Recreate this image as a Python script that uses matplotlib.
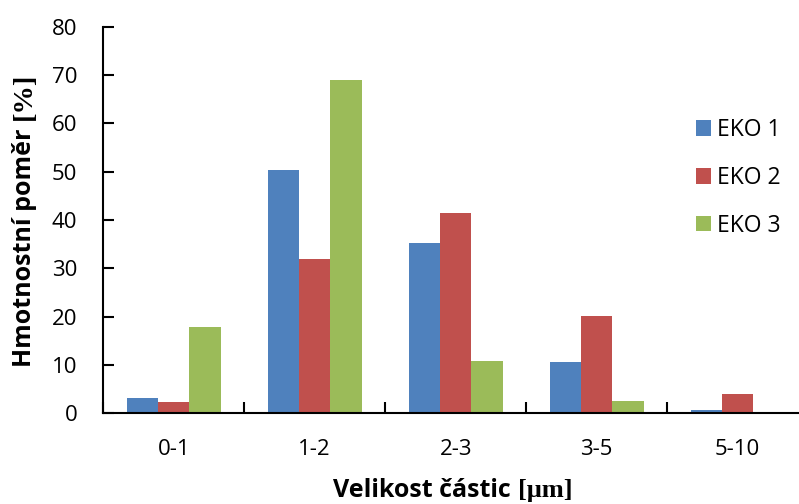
import matplotlib
matplotlib.use("Agg")
import matplotlib.pyplot as plt
import numpy as np

# particle size classes and mass fractions
categories = ["0-1", "1-2", "2-3", "3-5", "5-10"]
series_names = ["EKO 1", "EKO 2", "EKO 3"]
eko1 = [3.2, 50.3, 35.2, 10.6, 0.7]
eko2 = [2.3, 32.0, 41.4, 20.1, 4.0]
eko3 = [17.8, 68.9, 10.8, 2.5, 0.0]
y_ticks = [0, 10, 20, 30, 40, 50, 60, 70, 80]

colors = ["#4F81BD", "#C0504D", "#9BBB59"]

SANS = ["Open Sans", "DejaVu Sans"]
SERIF = ["Liberation Serif", "DejaVu Serif"]
plt.rcParams["font.family"] = SANS

W, H = 799, 504
fig = plt.figure(figsize=(W / 100, H / 100), dpi=100)
left, right = 103.3, 808.0
bottom, top = 413.3, 26.7
ax = fig.add_axes([left / W, (H - bottom) / H, (right - left) / W, (bottom - top) / H])

x = np.arange(len(categories))
width = 0.222
for i, (vals, name) in enumerate(zip([eko1, eko2, eko3], series_names)):
    ax.bar(x + (i - 1) * width, vals, width, color=colors[i], label=name,
           edgecolor="none", zorder=2)

ax.set_xlim(-0.5, len(categories) - 0.5)
ax.set_ylim(0, 80)
ax.set_yticks(y_ticks)
ax.set_xticks(x)
ax.set_xticklabels(categories)
ax.set_xticks(np.arange(len(categories) + 1) - 0.5, minor=True)

for s in ["top", "right"]:
    ax.spines[s].set_visible(False)
for s in ["left", "bottom"]:
    ax.spines[s].set_linewidth(1.5)
    ax.spines[s].set_color("black")

ax.tick_params(axis="y", direction="in", length=8, width=1.5, labelsize=16, pad=18.7)
ax.tick_params(axis="x", which="major", length=0, labelsize=16, pad=18.5)
ax.tick_params(axis="x", which="minor", direction="in", length=8, width=1.5)

ax.legend(loc="upper left", bbox_to_anchor=(696 / W, (H - 118) / H),
          bbox_transform=fig.transFigure, frameon=False, fontsize=16.5,
          handlelength=0.66, handleheight=0.66, handletextpad=0.27,
          labelspacing=1.04, borderpad=0, borderaxespad=0)


def px(xp, yp):
    """Pixel position (from top-left) to figure fraction."""
    return xp / W, (H - yp) / H


def axis_title(text_sans, text_serif, center, baseline, vertical,
               size_sans=18, size_serif=17, gap=6):
    """Bold axis title: words in sans, unit bracket in serif."""
    rot = 90 if vertical else 0
    kw = dict(rotation=rot, rotation_mode="anchor", ha="left", va="baseline",
              fontweight="bold")
    t1 = fig.text(0, 0, text_sans, family=SANS, fontsize=size_sans, **kw)
    t2 = fig.text(0, 0, text_serif, family=SERIF, fontsize=size_serif, **kw)
    r = fig.canvas.get_renderer()
    e1, e2 = t1.get_window_extent(r), t2.get_window_extent(r)
    l1 = e1.height if vertical else e1.width
    l2 = e2.height if vertical else e2.width
    total = l1 + gap + l2
    if vertical:
        # text runs upwards: first part starts at the lower end
        start = center + total / 2
        t1.set_position(px(baseline, start))
        t2.set_position(px(baseline, start - l1 - gap))
    else:
        start = center - total / 2
        t1.set_position(px(start, baseline))
        t2.set_position(px(start + l1 + gap, baseline))


axis_title("Hmotnostní poměr", "[%]", center=220, baseline=31, vertical=True,
           size_sans=18, size_serif=20.5, gap=8)
axis_title("Velikost částic", "[μm]", center=453, baseline=497, vertical=False,
           size_sans=18, size_serif=19, gap=7)

fig.savefig("out.png", dpi=100)
